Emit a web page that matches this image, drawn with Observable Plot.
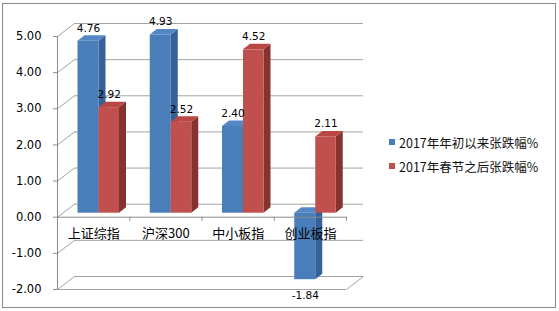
<!DOCTYPE html>
<html><head><meta charset="utf-8">
<script src="https://cdn.jsdelivr.net/npm/d3@7"></script>
<script src="https://cdn.jsdelivr.net/npm/@observablehq/plot@0.6"></script>
<style>
body{margin:0;background:#fff;}
#wrap{position:relative;width:559px;height:311px;overflow:hidden;background:#fff;}
#border{position:absolute;left:2px;top:3px;width:552px;height:303px;border:1px solid #8a8a8a;pointer-events:none;}
#legend{position:absolute;left:389px;top:130px;font-family:"Noto Sans CJK SC",sans-serif;font-size:12.5px;color:#111;}
.item{display:flex;align-items:center;height:24px;white-space:nowrap;}
.sw{width:6px;height:6px;margin-right:4px;flex:none;}
</style></head><body>
<div id="wrap"><div id="chart"></div><div id="legend"></div><div id="border"></div></div>
<script>
// ---- data ----
const categories = ["上证综指", "沪深300", "中小板指", "创业板指"];
const seriesNames = ["2017年年初以来张跌幅%", "2017年春节之后张跌幅%"];
const ytdValues = [4.76, 4.93, 2.40, -1.84];
const springValues = [2.92, 2.52, 4.52, 2.11];
const yTicks = [-2, -1, 0, 1, 2, 3, 4, 5];

// ---- styling ----
const front = ["#4a7ebb", "#c0504d"];
const side = ["#35609a", "#86332f"];
const topc = ["#5587c6", "#b94845"];
const W = 559, H = 311, mL = 57, mR = 213, mT = 36, mB = 22;
const yMin = d3.min(yTicks), yMax = d3.max(yTicks);
const ux = (W - mL - mR) / categories.length;
const uy = (H - mT - mB) / (yMax - yMin);
const barOff = [[20.5, 41.5], [41.5, 62]]; // px within a category band
const sdx = 7 / ux, sdy = 5.5 / uy;         // bar depth
const wdx = 17 / ux, wdy = 13 / uy;         // wall depth
const lift = -4;                              // bars sit behind the front plane

const seriesValues = [ytdValues, springValues];
const bars = [];
seriesValues.forEach((vals, s) => vals.forEach((v, i) => bars.push({
  key: s + "-" + i, s, i, value: v,
  x0: i + barOff[s][0] / ux, x1: i + barOff[s][1] / ux,
  top: Math.max(v, 0)
})));
const sideData = bars.flatMap(b => [0, 1].map(t => ({
  z: b.key, fill: side[b.s], x: b.x1 + t * sdx, y1: t * sdy, y2: b.value + t * sdy
})));
const topData = bars.flatMap(b => [0, 1].map(t => ({
  z: b.key, fill: topc[b.s], y: b.top + t * sdy, x1: b.x0 + t * sdx, x2: b.x1 + t * sdx
})));
const fmt = d => d.toFixed(2);
const numFont = "DejaVu Sans, sans-serif";
const cjkFont = "Noto Sans CJK SC, sans-serif";

const chart = Plot.plot({
  width: W, height: H,
  marginLeft: mL, marginRight: mR, marginTop: mT, marginBottom: mB,
  x: {type: "linear", domain: [0, categories.length], axis: null},
  y: {domain: [yMin, yMax], axis: null},
  color: {type: "identity"},
  style: {fontFamily: numFont, fontSize: "11.5px", color: "#000", background: "transparent"},
  marks: [
    // back wall gridlines
    Plot.ruleY(yTicks, {stroke: "#a3a3a3", dx: 17, dy: -13}),
    // side wall diagonals
    Plot.link(yTicks, {x1: 0, x2: wdx, y1: d => d, y2: d => d + wdy, stroke: "#a3a3a3"}),
    // floor at bottom
    Plot.ruleY([yMin], {stroke: "#a3a3a3"}),
    Plot.link([yMin], {x1: categories.length, x2: categories.length + wdx, y1: d => d, y2: d => d + wdy, stroke: "#a3a3a3"}),
    // y axis
    Plot.ruleX([0], {stroke: "#8c8c8c"}),
    Plot.ruleY(yTicks, {x1: -4 / ux, x2: 0, stroke: "#8c8c8c"}),
    Plot.text(yTicks, {x: 0, y: d => d, text: fmt, textAnchor: "end", dx: -16, fill: "#000", fontSize: 11.5}),
    // bars: side, top, front
    Plot.area(sideData, {x1: "x", x2: "x", y1: "y1", y2: "y2", z: "z", fill: "fill", dy: lift}),
    Plot.area(topData, {x1: "x1", x2: "x2", y1: "y", y2: "y", z: "z", fill: "fill", dy: lift}),
    Plot.rectY(bars, {x1: "x0", x2: "x1", y1: 0, y2: "value", fill: d => front[d.s], dy: lift}),
    // category axis at zero
    Plot.ruleY([0], {stroke: "#8c8c8c"}),
    Plot.ruleX(d3.range(1, categories.length + 1), {y1: 0, y2: -4 / uy, stroke: "#8c8c8c"}),
    Plot.text(categories, {x: (d, i) => i + 0.5, y: 0, text: d => d, dy: 17, fontSize: 13, fontFamily: cjkFont, fill: "#000"}),
    // value labels
    Plot.text(bars.filter(b => b.value >= 0), {x: b => (b.x0 + b.x1) / 2, y: "value", text: b => fmt(b.value), dy: -17, fontSize: 10.5, fill: "#000"}),
    Plot.text(bars.filter(b => b.value < 0), {x: b => (b.x0 + b.x1) / 2, y: "value", text: b => fmt(b.value), dy: 12, fontSize: 10.5, fill: "#000"})
  ]
});
document.getElementById("chart").appendChild(chart);

const legend = document.getElementById("legend");
seriesNames.forEach((name, s) => {
  const item = document.createElement("div");
  item.className = "item";
  const sw = document.createElement("span");
  sw.className = "sw";
  sw.style.background = front[s];
  const label = document.createElement("span");
  label.textContent = name;
  item.appendChild(sw);
  item.appendChild(label);
  legend.appendChild(item);
});
</script>
</body></html>
